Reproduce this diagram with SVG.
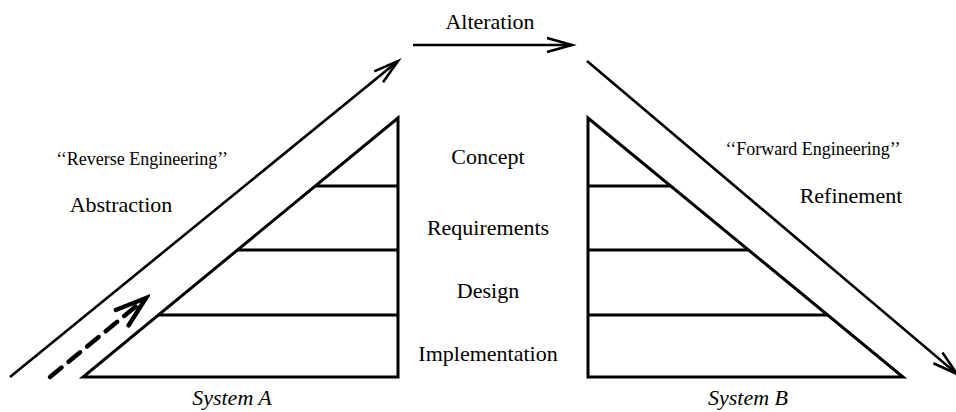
<svg xmlns="http://www.w3.org/2000/svg" width="956" height="412" viewBox="0 0 956 412">
<style>
.ln{fill:none;stroke:#000;stroke-width:3;stroke-linejoin:miter}
.ar{fill:none;stroke:#000;stroke-width:2.6}
.t{font-family:"Liberation Serif","Times New Roman",serif;font-size:22px;fill:#000;text-anchor:middle}
.q{font-family:"Liberation Serif","Times New Roman",serif;font-size:18px;fill:#000;text-anchor:middle}
.s{font-family:"Liberation Serif","Times New Roman",serif;font-size:22px;font-style:italic;fill:#000;text-anchor:middle}
</style>
<defs>
<marker id="open" markerUnits="userSpaceOnUse" markerWidth="34" markerHeight="24" viewBox="-28 -12 32 24" refX="0" refY="0" orient="auto">
<path d="M-25,-7 L0,0 L-25,7" fill="none" stroke="#000" stroke-width="2.6"/>
</marker>
<marker id="thick" markerUnits="userSpaceOnUse" markerWidth="40" markerHeight="30" viewBox="-34 -15 38 30" refX="0" refY="0" orient="auto">
<path d="M-31,-10 L0,0 L-31,10" fill="none" stroke="#000" stroke-width="4.4" stroke-linecap="round"/>
</marker>
</defs>
<g id="systemA">
<path class="ln" d="M398,118 L398,377 L83,377 Z"/>
<line class="ln" x1="315" y1="186" x2="398" y2="186"/>
<line class="ln" x1="237.5" y1="250" x2="398" y2="250"/>
<line class="ln" x1="158.5" y1="315" x2="398" y2="315"/>
<text class="s" x="232" y="405">System A</text>
</g>
<g id="systemB">
<path class="ln" d="M588,118 L588,377 L903,377 Z"/>
<line class="ln" x1="588" y1="186" x2="671" y2="186"/>
<line class="ln" x1="588" y1="250" x2="748.5" y2="250"/>
<line class="ln" x1="588" y1="315" x2="827.5" y2="315"/>
<text class="s" x="748" y="405">System B</text>
</g>
<g id="levels">
<text class="t" x="488" y="164">Concept</text>
<text class="t" x="488" y="235">Requirements</text>
<text class="t" x="488" y="298">Design</text>
<text class="t" x="488" y="361">Implementation</text>
</g>
<g id="labels">
<text class="t" x="490" y="29">Alteration</text>
<text class="q" x="142" y="165">‘‘Reverse Engineering’’</text>
<text class="t" x="121" y="212">Abstraction</text>
<text class="q" x="813" y="155">‘‘Forward Engineering’’</text>
<text class="t" x="851" y="203">Refinement</text>
</g>
<g id="connectors">
<line class="ar" x1="10" y1="377" x2="398" y2="61" marker-end="url(#open)"/>
<line x1="50" y1="377" x2="140" y2="303" stroke="#000" stroke-width="4.4" stroke-dasharray="15,9" stroke-linecap="round"/>
<line x1="120" y1="319.5" x2="146" y2="298" stroke="none" marker-end="url(#thick)"/>
<line class="ar" x1="413" y1="45" x2="572" y2="45" marker-end="url(#open)"/>
<line class="ar" x1="587" y1="61" x2="957" y2="374" marker-end="url(#open)"/>
</g>
</svg>
